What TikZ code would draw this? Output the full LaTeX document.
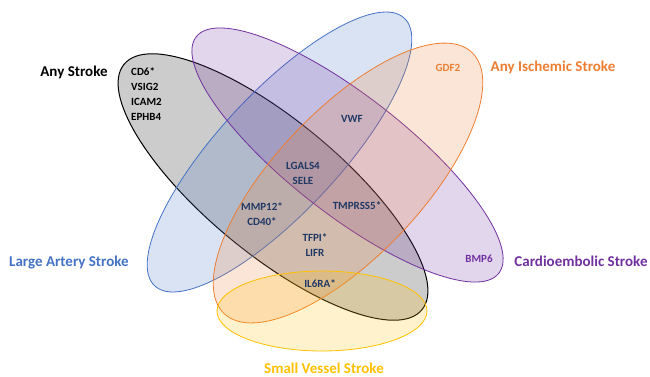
\documentclass[tikz,border=0pt]{standalone}
\usepackage{fontspec}
\setmainfont{Carlito}
\definecolor{cblack}{HTML}{000000}
\definecolor{cblue}{HTML}{4472C4}
\definecolor{cpurple}{HTML}{7030A0}
\definecolor{corange}{HTML}{ED7D31}
\definecolor{cyellow}{HTML}{FFC000}
\definecolor{cnavy}{HTML}{1F3864}
\begin{document}
\begin{tikzpicture}[x=1pt,y=-1pt,
  setshape/.style={draw=#1,fill=#1,fill opacity=0.2,line width=0.8pt},
  title/.style={font=\fontsize{15}{18}\selectfont\bfseries,inner sep=0pt},
  gene/.style={font=\fontsize{11}{15}\selectfont\bfseries,inner sep=0pt,align=center,text=cnavy}]
\useasboundingbox (0,0) rectangle (650,376);
% Any Stroke (black)
\draw[setshape=cblack,line width=1pt,rotate around={-39.5:(273,187)}] (273,187) ellipse [x radius=193pt,y radius=67pt];
% Large Artery (blue)
\draw[setshape=cblue,rotate around={47:(279.5,152)}] (279.5,152) ellipse [x radius=183pt,y radius=60pt];
% Cardioembolic (purple)
\draw[setshape=cpurple,rotate around={-38:(347.5,155)}] (347.5,155) ellipse [x radius=192pt,y radius=59pt];
% Any Ischemic (orange)
\draw[setshape=corange,rotate around={46.5:(348,183)}] (348,183) ellipse [x radius=180pt,y radius=73pt];
% Small Vessel (yellow)
\draw[setshape=cyellow] (322,311) ellipse [x radius=105pt,y radius=40pt];
% titles
\node[title,text=black] (tany) at (74,72) {Any Stroke};
\node[title,text=corange] (tisch) at (553,67) {Any Ischemic Stroke};
\node[title,text=cblue] (tla) at (69,262) {Large Artery Stroke};
\node[title,text=cpurple] (tce) at (581,261) {Cardioembolic Stroke};
\node[title,text=cyellow] (tsv) at (324,368) {Small Vessel Stroke};
% genes
\node[gene,text=black,align=left,anchor=west] (gany) at (131,94.5) {CD6*\\VSIG2\\ICAM2\\EPHB4};
\node[gene,text=corange] (ggdf) at (448,68) {GDF2};
\node[gene] (gvwf) at (352,119) {VWF};
\node[gene] (glg) at (303,173.5) {LGALS4\\SELE};
\node[gene] (gtm) at (357,206) {TMPRSS5*};
\node[gene] (gmmp) at (262,214.5) {MMP12*\\CD40*};
\node[gene] (gtf) at (315,245.5) {TFPI*\\LIFR};
\node[gene] (gil) at (320,284) {IL6RA*};
\node[gene,text=cpurple] (gbmp) at (479,259) {BMP6};
\end{tikzpicture}
\end{document}
